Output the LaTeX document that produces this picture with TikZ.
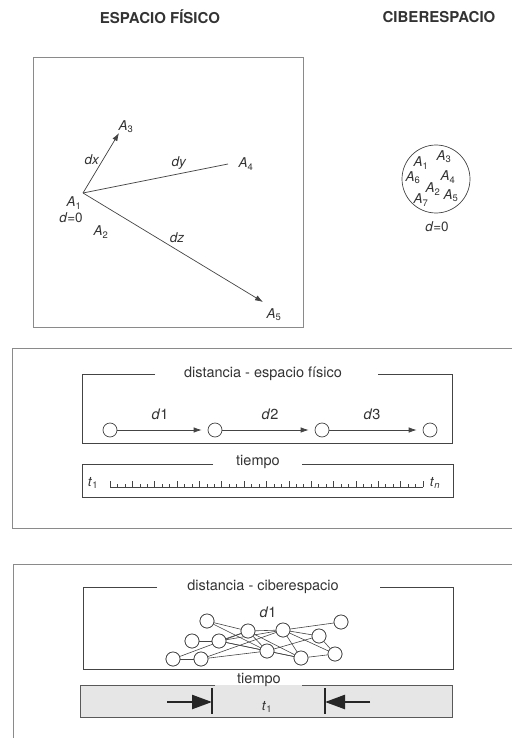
\documentclass[tikz,border=0pt]{standalone}
\usepackage{fontspec}
\setmainfont{TeX Gyre Heros}
\usetikzlibrary{arrows.meta}
\definecolor{ink}{HTML}{333333}
\definecolor{framec}{HTML}{8A8A8A}
\definecolor{linec}{HTML}{444444}
\definecolor{boxfill}{HTML}{E6E6E6}
\newcommand\titlef{\fontsize{15}{17}\selectfont\bfseries}
\newcommand\bodyf{\fontsize{14.5}{17}\selectfont}
\newcommand\labf{\fontsize{13.5}{16}\selectfont}
\newcommand\Alab[1]{\textit{A}\textsubscript{\upshape #1}}
\begin{document}
\begin{tikzpicture}[x=1pt,y=-1pt,
  every node/.style={text=ink, inner sep=0pt},
  frame/.style={draw=framec, line width=0.9pt},
  inbox/.style={draw=linec, line width=0.75pt},
  arr/.style={draw=linec, line width=0.7pt, -{Latex[length=8pt,width=5.5pt]}},
  plain/.style={draw=linec, line width=0.7pt},
  dot/.style={circle, draw=linec, line width=0.7pt, fill=white, minimum size=14pt},
  lab/.style={font=\labf},
  body/.style={font=\bodyf},
  tick/.style={draw=linec, line width=0.6pt},
  bigarr/.style={draw=black!85, line width=2.4pt, -{Triangle[length=20pt,width=14pt]}},
  bar/.style={draw=black!85, line width=2.2pt}]
\useasboundingbox (0,0) rectangle (512,738);

% titles
\node[font=\titlef] (t1) at (160,17) {ESPACIO FÍSICO};
\node[font=\titlef] (t2) at (439,17) {CIBERESPACIO};

% ---------- physical space box ----------
\draw[frame] (33,57) rectangle (303,327);
\coordinate (pA1) at (83,193);
\coordinate (pA3) at (119,133);
\coordinate (pA4) at (228,164);
\coordinate (pA5) at (263,302);
\draw[arr] (pA1) -- (pA3);
\draw[plain] (pA1) -- (pA4);
\draw[arr] (pA1) -- (pA5);
\node[lab] (lA3) at (126,127) {\Alab{3}};
\node[lab] (ldx) at (92,160) {\textit{dx}};
\node[lab] (ldy) at (179,163) {\textit{dy}};
\node[lab] (lA4) at (246,164) {\Alab{4}};
\node[lab] (lA1) at (74,203) {\Alab{1}};
\node[lab] (ld0) at (71,218) {\textit{d}=0};
\node[lab] (lA2) at (101,232) {\Alab{2}};
\node[lab] (ldz) at (177,238) {\textit{dz}};
\node[lab] (lA5) at (274,315) {\Alab{5}};

% ---------- cyberspace circle ----------
\node[circle, draw=linec, line width=0.7pt, minimum size=68pt] (cyb) at (436,179) {};
\node[lab] (cA1) at (421,163) {\Alab{1}};
\node[lab] (cA3) at (444,157) {\Alab{3}};
\node[lab] (cA6) at (413,178) {\Alab{6}};
\node[lab] (cA4) at (448,177) {\Alab{4}};
\node[lab] (cA2) at (433,189) {\Alab{2}};
\node[lab] (cA7) at (421,200) {\Alab{7}};
\node[lab] (cA5) at (451,196) {\Alab{5}};
\node[lab] (cd0) at (437,227) {\textit{d}=0};

% ---------- middle panel ----------
\draw[frame] (512,348) -- (12,348) -- (12,528) -- (512,528);
\draw[inbox] (155,374) -- (82,374) -- (82,443) -- (452,443) -- (452,374) -- (378,374);
\node[body] (mt) at (263,374) {distancia - espacio físico};
\node[dot] (c1) at (110,430) {};
\node[dot] (c2) at (215,430) {};
\node[dot] (c3) at (322,430) {};
\node[dot] (c4) at (430,430) {};
\draw[arr, shorten >=6pt] (c1) -- (c2);
\draw[arr, shorten >=6pt] (c2) -- (c3);
\draw[arr, shorten >=6pt] (c3) -- (c4);
\node[lab, font=\fontsize{14.5}{16}\selectfont] (d1) at (160,414) {\textit{d}1};
\node[lab, font=\fontsize{14.5}{16}\selectfont] (d2) at (270,414) {\textit{d}2};
\node[lab, font=\fontsize{14.5}{16}\selectfont] (d3) at (372,414) {\textit{d}3};

\draw[inbox] (213,464) -- (82,464) -- (82,497) -- (453,497) -- (453,464) -- (302,464);
\node[body] (tm1) at (258,462) {tiempo};
\node[lab] (lt1) at (93,483) {\textit{t}\textsubscript{\upshape 1}};
\node[lab] (ltn) at (435,483) {\textit{t}\textsubscript{\itshape n}};
\draw[tick] (110,487) -- (423,487);
\foreach \i in {0,...,42}{
  \pgfmathtruncatemacro\m{mod(\i,3)}
  \ifnum\m=0 \def\h{6}\else\def\h{3}\fi
  \draw[tick] (110+\i*7.452,487) -- ++(0,-\h);
}

% ---------- bottom panel ----------
\draw[frame] (512,564) -- (13,564) -- (13,738);
\draw[inbox] (157,587) -- (83,587) -- (83,669) -- (453,669) -- (453,587) -- (380,587);
\node[body] (bt) at (263,587) {distancia - ciberespacio};
\node[lab, font=\fontsize{14.5}{16}\selectfont] (bd1) at (268,612) {\textit{d}1};

\node[dot] (n1) at (207,621) {};
\node[dot] (n2) at (248,631) {};
\node[dot] (n3) at (283,630) {};
\node[dot] (n4) at (341,622) {};
\node[dot] (n5) at (192,641) {};
\node[dot] (n6) at (219,641) {};
\node[dot] (n7) at (319,636) {};
\node[dot] (n8) at (173,659) {};
\node[dot] (n9) at (201,659) {};
\node[dot] (n10) at (267,651) {};
\node[dot] (n11) at (301,658) {};
\node[dot] (n12) at (335,654) {};
\foreach \a/\b in {n1/n2, n1/n10, n5/n6, n6/n2, n6/n3, n6/n10, n6/n11, n8/n9, n8/n2,
  n9/n10, n2/n3, n2/n11, n2/n10, n3/n4, n3/n7, n3/n11, n3/n12, n7/n12, n10/n7, n10/n11, n9/n3, n11/n12}
  \draw[plain, line width=0.6pt] (\a) -- (\b);
% redraw circles on top
\foreach \n in {n1,n2,n3,n4,n5,n6,n7,n8,n9,n10,n11,n12}
  \node[dot] at (\n) {};

\fill[boxfill] (80,685) rectangle (452,717);
\draw[inbox, draw=black!65] (215,685) -- (80,685) -- (80,717) -- (452,717) -- (452,685) -- (302,685);
\node[body] (tm2) at (259,680) {tiempo};
\coordinate (la) at (167,702);
\coordinate (lb) at (212,702);
\coordinate (ra) at (370,702);
\coordinate (rb) at (325,702);
\draw[bigarr] (la) -- (lb);
\draw[bigarr] (ra) -- (rb);
\draw[bar] (212,688) -- (212,714);
\draw[bar] (325,688) -- (325,714);
\node[lab] (lt1b) at (267,707) {\textit{t}\textsubscript{\upshape 1}};
\end{tikzpicture}
\end{document}
